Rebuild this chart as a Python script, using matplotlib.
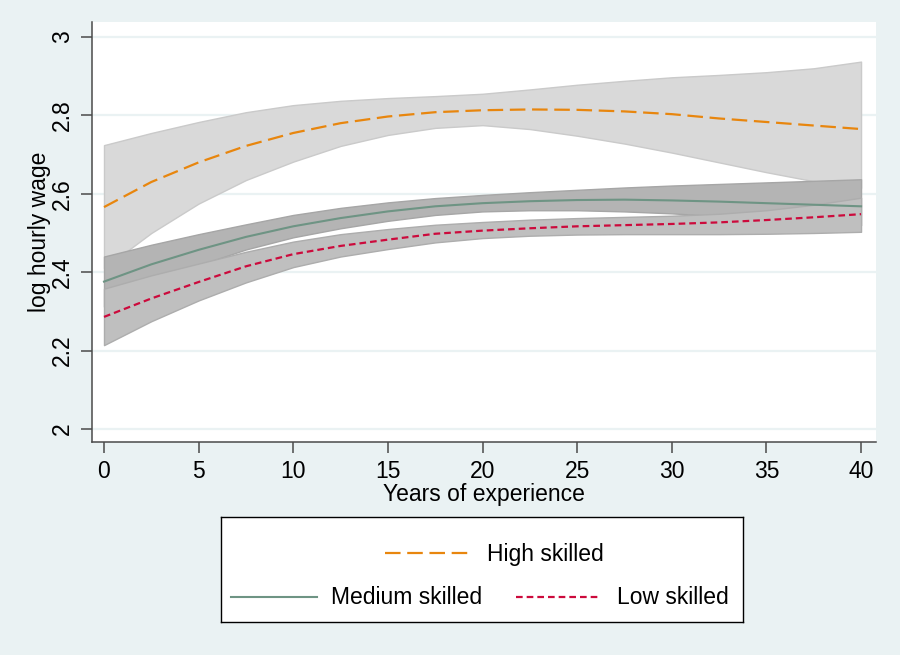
import matplotlib
matplotlib.use('Agg')
import matplotlib.pyplot as plt

plt.rcParams['font.family'] = ['Liberation Sans', 'DejaVu Sans']

# years of experience
exper = [0, 2.5, 5, 7.5, 10, 12.5, 15, 17.5, 20, 22.5, 25, 27.5, 30, 32.5, 35, 37.5, 40]

# high skilled fit + CI
high_fit = [2.566, 2.630, 2.680, 2.722, 2.755, 2.780, 2.797, 2.808, 2.813, 2.815,
            2.814, 2.810, 2.803, 2.792, 2.783, 2.774, 2.765]
high_hi = [2.724, 2.755, 2.783, 2.808, 2.826, 2.837, 2.844, 2.849, 2.855, 2.866,
           2.878, 2.888, 2.897, 2.903, 2.910, 2.920, 2.937]
high_lo = [2.410, 2.500, 2.575, 2.635, 2.682, 2.722, 2.750, 2.768, 2.775, 2.765,
           2.748, 2.728, 2.705, 2.680, 2.655, 2.632, 2.615]

# medium skilled fit + CI
med_fit = [2.376, 2.420, 2.457, 2.490, 2.517, 2.538, 2.555, 2.568, 2.576, 2.581,
           2.584, 2.585, 2.583, 2.580, 2.576, 2.572, 2.568]
med_hi = [2.440, 2.470, 2.497, 2.522, 2.546, 2.564, 2.578, 2.589, 2.597, 2.604,
          2.610, 2.616, 2.621, 2.625, 2.629, 2.633, 2.637]
med_lo = [2.312, 2.370, 2.418, 2.458, 2.489, 2.512, 2.531, 2.546, 2.555, 2.558,
          2.558, 2.555, 2.550, 2.543, 2.536, 2.528, 2.520]

# low skilled fit + CI
low_fit = [2.286, 2.333, 2.375, 2.415, 2.446, 2.467, 2.483, 2.498, 2.506, 2.512,
           2.517, 2.520, 2.523, 2.527, 2.533, 2.540, 2.548]
low_hi = [2.358, 2.392, 2.422, 2.452, 2.478, 2.497, 2.510, 2.521, 2.528, 2.534,
          2.538, 2.541, 2.544, 2.549, 2.558, 2.572, 2.590]
low_lo = [2.214, 2.275, 2.328, 2.374, 2.413, 2.440, 2.459, 2.476, 2.487, 2.493,
          2.496, 2.497, 2.497, 2.497, 2.498, 2.500, 2.503]

xticks = [0, 5, 10, 15, 20, 25, 30, 35, 40]
yticks = [2, 2.2, 2.4, 2.6, 2.8, 3]
labels = ['High skilled', 'Medium skilled', 'Low skilled']

bg = '#eaf2f3'
orange = '#e8860e'
teal = '#6e9484'
red = '#cc0a3c'
dash_long = (0, (7, 3))
dash_short = (0, (3, 1.8))
fs = 16.5

fig = plt.figure(figsize=(9, 6.55), dpi=100, facecolor=bg)
ax = fig.add_axes([92/900, 1 - 442/655, (876-92)/900, (442-22)/655])
ax.set_facecolor('white')

# confidence bands
ax.fill_between(exper, high_lo, high_hi, facecolor='#d9d9d9', edgecolor='#cacaca', lw=1, zorder=2)
ax.fill_between(exper, med_lo, med_hi, facecolor='#b4b4b4', edgecolor='#a6a6a6', lw=1, zorder=3)
ax.fill_between(exper, low_lo, low_hi, facecolor='#bfbfbf', edgecolor='#adadad', lw=1, zorder=4)

# fitted lines
ax.plot(exper, high_fit, color=orange, lw=1.6, linestyle=dash_long, zorder=5)
ax.plot(exper, med_fit, color=teal, lw=1.5, zorder=5)
ax.plot(exper, low_fit, color=red, lw=1.6, linestyle=dash_short, zorder=6)

ax.set_xlim(-0.634, 40.79)
ax.set_ylim(1.967, 3.038)
ax.set_xticks(xticks)
ax.set_yticks(yticks)
ax.set_yticklabels(['%g' % v for v in yticks], rotation=90, va='center')
ax.grid(axis='y', color=bg, lw=1.6, zorder=0)
ax.set_axisbelow(True)

for s in ['top', 'right']:
    ax.spines[s].set_visible(False)
for s in ['left', 'bottom']:
    ax.spines[s].set_color('#4a4a4a')
    ax.spines[s].set_linewidth(1.1)
ax.tick_params(axis='both', colors='#4a4a4a', labelcolor='black', labelsize=fs,
               length=8, width=1.1)
ax.tick_params(axis='x', pad=5)
ax.tick_params(axis='y', pad=5)

ax.set_xlabel('Years of experience', fontsize=fs, labelpad=0)
ax.set_ylabel('log hourly wage', fontsize=fs, labelpad=0)

# legend box (Stata style: one entry on top, two below)
lg = fig.add_axes([221/900, 1 - 622/655, (743-221)/900, (622-516.7)/655])
lg.set_xlim(0, 522)
lg.set_ylim(0, 105.3)
lg.set_xticks([])
lg.set_yticks([])
for s in lg.spines.values():
    s.set_color('black')
    s.set_linewidth(1)
lg.plot([164, 251], [69, 69], color=orange, lw=1.6, linestyle=dash_long)
lg.text(266, 67, labels[0], fontsize=fs, va='center')
lg.plot([10, 96], [25, 25], color=teal, lw=1.5)
lg.text(110, 24, labels[1], fontsize=fs, va='center')
lg.plot([295, 380], [25, 25], color=red, lw=1.6, linestyle=dash_short)
lg.text(396, 24, labels[2], fontsize=fs, va='center')

fig.savefig('out.png', dpi=100, facecolor=bg)
